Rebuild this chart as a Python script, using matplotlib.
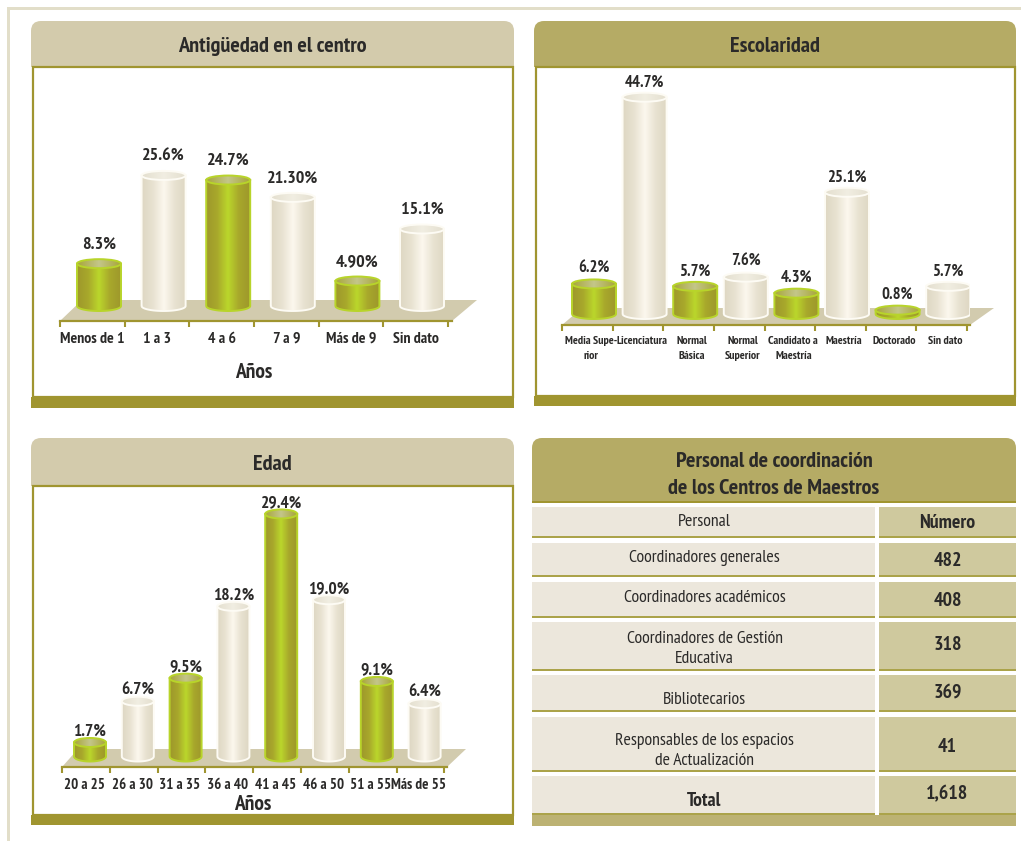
import numpy as np
import matplotlib
matplotlib.use("Agg")
import matplotlib.pyplot as plt
from matplotlib.colors import LinearSegmentedColormap
from matplotlib.patches import FancyBboxPatch, PathPatch, Polygon, Rectangle, Ellipse
from matplotlib.path import Path

plt.rcParams['font.family'] = ['PT Sans Narrow', 'Archivo Narrow', 'Liberation Sans', 'DejaVu Sans']

W, H = 1021, 841

antiguedad_labels = ["Menos de 1", "1 a 3", "4 a 6", "7 a 9", "Más de 9", "Sin dato"]
antiguedad_values = [8.3, 25.6, 24.7, 21.3, 4.9, 15.1]
antiguedad_text = ["8.3%", "25.6%", "24.7%", "21.30%", "4.90%", "15.1%"]

escolaridad_labels = ["Media Supe-\nrior", "Licenciatura", "Normal\nBásica", "Normal\nSuperior",
                      "Candidato a\nMaestría", "Maestría", "Doctorado", "Sin dato"]
escolaridad_values = [6.2, 44.7, 5.7, 7.6, 4.3, 25.1, 0.8, 5.7]

edad_labels = ["20 a 25", "26 a 30", "31 a 35", "36 a 40", "41 a 45", "46 a 50", "51 a 55", "Más de 55"]
edad_values = [1.7, 6.7, 9.5, 18.2, 29.4, 19.0, 9.1, 6.4]

personal_labels = ["Coordinadores generales", "Coordinadores académicos",
                   "Coordinadores de Gestión\nEducativa", "Bibliotecarios",
                   "Responsables de los espacios\nde Actualización"]
personal_values = ["482", "408", "318", "369", "41"]
personal_total = "1,618"

OLIVE = "#a09530"
HEAD_LIGHT = "#d3cbac"
HEAD_DARK = "#b5ab65"
FLOOR = "#d2cbae"
TEXT = "#2b2a29"

green_cmap = LinearSegmentedColormap.from_list("g", ["#9e982b", "#a8a82b", "#bbd72c", "#a8a82b", "#9e982b"])
cream_cmap = LinearSegmentedColormap.from_list("c", ["#ded7c3", "#e8e2d1", "#fcf8ee", "#e8e2d1", "#ded7c3"])
top_green = LinearSegmentedColormap.from_list("tg", ["#a8a63a", "#c4c68a", "#a8a63a"])
top_cream = LinearSegmentedColormap.from_list("tc", ["#e4dfcf", "#f1eee2", "#e4dfcf"])
gradient = np.linspace(0, 1, 128).reshape(1, -1)

fig = plt.figure(figsize=(W / 100, H / 100), dpi=100, facecolor="white")

# background layer in pixel coordinates
bg = fig.add_axes([0, 0, 1, 1])
bg.set_xlim(0, W)
bg.set_ylim(H, 0)
bg.axis("off")


def rect(x0, y0, x1, y1, color, z=1):
    bg.add_patch(Rectangle((x0, y0), x1 - x0, y1 - y0, facecolor=color, edgecolor="none", zorder=z))


def header(x0, y0, x1, y1, color):
    bg.add_patch(FancyBboxPatch((x0 + 10, y0 + 10), x1 - x0 - 20, y1 - y0 - 20,
                                boxstyle="round,pad=10,rounding_size=10", facecolor=color, edgecolor="none", zorder=1))
    rect(x0, y0 + 12, x1, y1, color, 1)


def panel(x0, y0, x1, head_bottom, body_bottom, band_bottom, color, title):
    header(x0, y0, x1, head_bottom, color)
    bg.add_patch(Rectangle((x0 + 1.5, head_bottom), x1 - x0 - 3, body_bottom - head_bottom, facecolor="white",
                           edgecolor=OLIVE, linewidth=1.6, zorder=2))
    rect(x0, body_bottom, x1, band_bottom, OLIVE, 3)
    bg.text((x0 + x1) / 2, (y0 + head_bottom) / 2 + 2.5, title, ha="center", va="center", fontsize=16,
            fontweight="bold", color=TEXT, zorder=4)


def cylinders(values, texts, labels, left, right, front, x0_px, step, zero_px, scale, tick_start, fontsize, value_size,
              width_px, label_shift, label_pad, value_gap, floor, linespacing=1.2):
    bg.add_patch(Polygon(floor, closed=True, facecolor=FLOOR, edgecolor="none", zorder=3))
    ax = fig.add_axes([left / W, 1 - front / H, (right - left) / W, (front - 30) / H])
    ax.patch.set_visible(False)
    x = np.arange(len(values))
    w = width_px / step
    bars = ax.bar(x, values, width=w, color="none", edgecolor="none", zorder=2)
    eh = 10.0 / scale
    theta = np.linspace(np.pi, 2 * np.pi, 40)
    for i, bar in enumerate(bars):
        # green and cream alternate in all three charts
        is_green = i % 2 == 0
        cx = bar.get_x() + bar.get_width() / 2
        v = bar.get_height()
        edge = "#b8d42a" if is_green else "#fdfbf4"
        xs = cx + w / 2 * np.cos(theta)
        ys = eh / 2 * np.sin(theta)
        verts = list(zip(xs, ys)) + [(cx + w / 2, v), (cx - w / 2, v), (cx - w / 2, 0)]
        ax.add_patch(PathPatch(Path(verts), facecolor="none", edgecolor=edge, linewidth=1.4, zorder=5))
        im = ax.imshow(gradient, extent=(cx - w / 2, cx + w / 2, -eh, v), aspect="auto", zorder=4,
                       cmap=green_cmap if is_green else cream_cmap)
        im.set_clip_path(PathPatch(Path(verts), transform=ax.transData))
        ax.add_patch(Ellipse((cx, v), w, eh * 0.9, facecolor="none", edgecolor=edge, linewidth=1.4, zorder=7))
        im2 = ax.imshow(gradient, extent=(cx - w / 2, cx + w / 2, v - eh, v + eh), aspect="auto", zorder=6,
                        cmap=top_green if is_green else top_cream)
        im2.set_clip_path(Ellipse((cx, v), w, eh * 0.9, transform=ax.transData))
        ax.annotate(texts[i], (cx, v), xytext=(0, value_gap), textcoords="offset points", ha="center", va="bottom",
                    fontsize=value_size, fontweight="bold", color=TEXT, zorder=8)
    ax.set_xlim((left - x0_px) / step, (right - x0_px) / step)
    ax.set_ylim((zero_px - front) / scale, (zero_px - 30) / scale)
    for s in ("left", "right", "top"):
        ax.spines[s].set_visible(False)
    ax.spines["bottom"].set_color(OLIVE)
    ax.spines["bottom"].set_linewidth(1.6)
    ax.set_yticks([])
    ax.set_xticks(x + label_shift, labels, fontsize=fontsize, fontweight="bold", color=TEXT,
                  linespacing=linespacing, va="top")
    ax.tick_params(axis="x", which="major", length=0, pad=label_pad)
    ax.set_xticks(np.arange(len(values) + 1) + tick_start, minor=True)
    ax.tick_params(axis="x", which="minor", length=4, width=1.5, color=OLIVE, direction="out")
    return ax


panel(31, 21, 514, 67, 397, 408, HEAD_LIGHT, "Antigüedad en el centro")
panel(534, 21, 1016, 67, 396, 406, HEAD_DARK, "Escolaridad")
panel(31, 438, 514, 486, 815, 825, HEAD_LIGHT, "Edad")

cylinders(antiguedad_values, antiguedad_text, antiguedad_labels, 60, 452, 321, 99, 64.6, 306, 5.1,
          -0.6, 11.3, 13, 44, -0.1, 8, 8,
          floor=[(60, 321), (452, 321), (477, 300), (82, 300)])
bg.text(254, 372, "Años", ha="center", va="center", fontsize=15.5, fontweight="bold", color=TEXT, zorder=4)

escolaridad_text = [f"{v:.1f}%" for v in escolaridad_values]
cylinders(escolaridad_values, escolaridad_text, escolaridad_labels, 562, 970, 325, 594, 50.6, 314, 4.85,
          -0.63, 8.6, 12, 44, -0.06, 8, 5,
          floor=[(562, 325), (970, 325), (994, 308), (582, 308)], linespacing=1.6)

edad_text = [f"{v:.1f}%" for v in edad_values]
cylinders(edad_values, edad_text, edad_labels, 62, 447, 767, 90, 47.8, 756.5, 8.25,
          -0.586, 10.8, 12.5, 32, -0.12, 8, 2,
          floor=[(62, 767), (447, 767), (466, 749), (78, 749)])
bg.text(253, 804, "Años", ha="center", va="center", fontsize=15.5, fontweight="bold", color=TEXT, zorder=4)

# table panel
header(532, 438, 1016, 502, HEAD_DARK)
rect(532, 501, 1016, 503, OLIVE, 2)
bg.text(774, 461, "Personal de coordinación", ha="center", va="center", fontsize=16, fontweight="bold", color=TEXT)
bg.text(774, 488, "de los Centros de Maestros", ha="center", va="center", fontsize=16, fontweight="bold", color=TEXT)

row_tops = [507, 543, 582, 622, 675, 717, 776]
row_bottoms = [538, 577, 618, 671, 712, 772, 815]
label_y = [521.5, 557.5, 598.5, 649, 699.5, 751, 800.5]
number_y = [523.5, 560.5, 600.5, 645.5, 692.5, 746.5, 794.5]
col_left = (532, 875)
col_right = (879, 1016)
table_left = ["Personal"] + personal_labels + ["Total"]
table_right = ["Número"] + personal_values + [personal_total]
for i in range(len(table_left)):
    rect(col_left[0], row_tops[i], col_left[1], row_bottoms[i], "#ece7dc", 1)
    rect(col_right[0], row_tops[i], col_right[1], row_bottoms[i], "#cfc99e", 1)
    rect(col_left[0], row_bottoms[i] - 2, col_left[1], row_bottoms[i], "#aba34a", 2)
    rect(col_right[0], row_bottoms[i] - 2, col_right[1], row_bottoms[i], "#aba34a", 2)
    last = i == len(table_left) - 1
    bg.text((col_left[0] + col_left[1]) / 2 + 1, label_y[i], table_left[i], ha="center", va="center",
            fontsize=14 if last else 12.8, fontweight="bold" if last else "normal", color=TEXT,
            linespacing=1.3, zorder=4)
    bg.text((col_right[0] + col_right[1]) / 2, number_y[i], table_right[i], ha="center", va="center",
            fontsize=14.3, fontweight="bold", color=TEXT, zorder=4)
rect(532, 815, 1016, 826, "#bcb273", 2)

# page frame
rect(8, 7, W, 9.5, "#e2dec9", 0)
rect(7, 7, 9.5, H, "#e2dec9", 0)

fig.savefig("out.png", dpi=100)
